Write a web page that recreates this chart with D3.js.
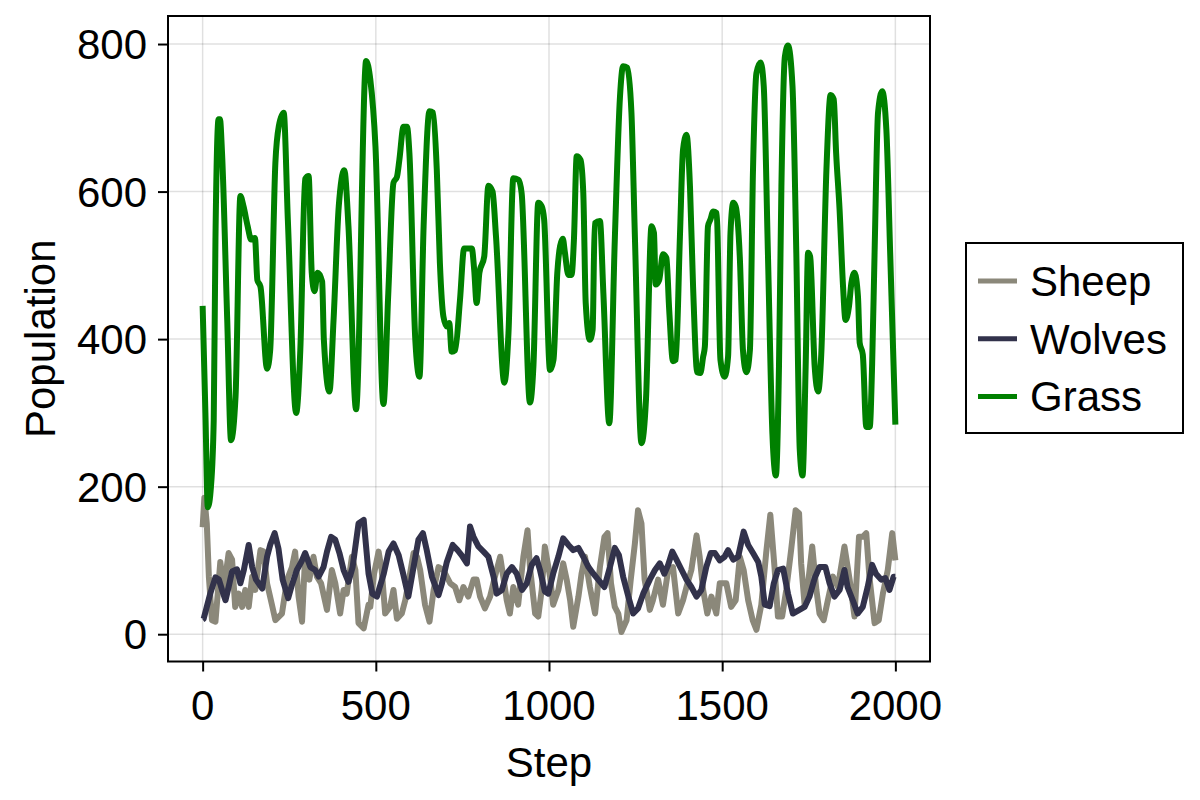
<!DOCTYPE html>
<html>
<head>
<meta charset="utf-8">
<script src="https://cdn.jsdelivr.net/npm/d3@7"></script>
<style>
  body { margin: 0; background: #fff; }
  svg { font-family: "Liberation Sans", Arial, sans-serif; }
</style>
</head>
<body>
<svg id="chart"></svg>
<script>
const width = 1200;
const height = 800;

const margin = { top: 16, right: 270, bottom: 138.5, left: 168 };

// data (step, population)
const sheepSteps = [0, 5, 12, 18, 27, 37, 51, 61, 75, 85, 94, 104, 114, 123, 133, 143, 152, 167, 176, 186, 200, 210, 229, 244, 258, 267, 277, 287, 296, 308, 320, 330, 342, 359, 373, 383, 397, 407, 416, 431, 441, 450, 465, 479, 484, 495, 508, 517, 527, 541, 551, 561, 575, 585, 594, 609, 619, 628, 642, 655, 667, 681, 695, 715, 729, 741, 753, 767, 782, 791, 801, 815, 830, 844, 859, 868, 878, 887, 897, 911, 926, 938, 945, 960, 969, 979, 988, 1003, 1012, 1027, 1041, 1051, 1061, 1070, 1085, 1094, 1104, 1118, 1133, 1147, 1160, 1169, 1179, 1190, 1200, 1209, 1224, 1236, 1248, 1257, 1267, 1276, 1291, 1300, 1315, 1329, 1344, 1358, 1373, 1387, 1397, 1411, 1426, 1435, 1445, 1457, 1469, 1483, 1493, 1512, 1526, 1539, 1551, 1562, 1575, 1588, 1599, 1613, 1627, 1639, 1651, 1661, 1673, 1685, 1699, 1712, 1722, 1728, 1738, 1748, 1760, 1772, 1781, 1793, 1805, 1820, 1834, 1853, 1868, 1882, 1895, 1906, 1916, 1925, 1940, 1952, 1964, 1978, 1991, 2000];
const sheepPop = [145, 185, 150, 78, 19, 17, 98, 60, 110, 101, 37, 55, 37, 60, 37, 78, 60, 114, 112, 69, 40, 19, 28, 74, 91, 112, 51, 17, 107, 74, 105, 78, 69, 33, 87, 69, 28, 60, 55, 105, 87, 15, 8, 40, 37, 82, 112, 87, 28, 37, 60, 21, 28, 46, 69, 110, 105, 87, 40, 17, 60, 91, 87, 69, 64, 46, 64, 51, 74, 74, 51, 35, 51, 78, 105, 78, 46, 28, 64, 40, 105, 141, 91, 28, 24, 60, 119, 78, 40, 60, 96, 74, 46, 10, 51, 82, 105, 64, 28, 91, 132, 137, 69, 37, 28, 3, 19, 74, 123, 168, 150, 74, 33, 46, 74, 40, 87, 91, 28, 46, 64, 87, 134, 105, 60, 28, 51, 28, 69, 69, 37, 46, 105, 87, 46, 19, 6, 40, 110, 162, 91, 24, 24, 60, 114, 168, 164, 96, 40, 69, 119, 60, 28, 19, 46, 78, 64, 119, 74, 24, 132, 132, 137, 78, 15, 19, 55, 87, 137, 100];

const wolfSteps = [0, 3, 22, 37, 47, 56, 66, 75, 85, 99, 109, 119, 133, 143, 154, 172, 186, 195, 208, 219, 231, 247, 258, 272, 285, 296, 311, 325, 335, 349, 359, 371, 383, 395, 407, 421, 433, 450, 465, 479, 490, 503, 523, 537, 551, 566, 580, 594, 609, 623, 636, 647, 662, 681, 691, 705, 722, 736, 748, 763, 772, 782, 796, 811, 825, 840, 849, 864, 878, 893, 907, 922, 936, 950, 964, 974, 988, 998, 1012, 1027, 1041, 1056, 1070, 1085, 1099, 1114, 1128, 1142, 1160, 1176, 1190, 1202, 1214, 1229, 1243, 1257, 1272, 1291, 1306, 1320, 1333, 1344, 1356, 1368, 1383, 1397, 1411, 1426, 1440, 1454, 1467, 1479, 1493, 1507, 1517, 1532, 1546, 1562, 1575, 1589, 1604, 1613, 1623, 1637, 1649, 1661, 1676, 1690, 1704, 1723, 1738, 1752, 1767, 1781, 1798, 1810, 1824, 1839, 1853, 1862, 1877, 1891, 1906, 1920, 1933, 1944, 1959, 1971, 1983, 1995, 2000];
const wolfPop = [20, 21, 55, 77, 74, 60, 46, 64, 85, 88, 69, 87, 121, 91, 74, 62, 105, 121, 137, 116, 74, 49, 67, 87, 98, 110, 91, 87, 78, 91, 112, 132, 128, 110, 87, 71, 91, 150, 155, 82, 55, 51, 82, 112, 123, 107, 80, 51, 91, 128, 137, 114, 78, 53, 69, 98, 121, 114, 107, 96, 146, 132, 119, 112, 105, 78, 55, 60, 82, 91, 82, 60, 69, 94, 103, 87, 58, 55, 82, 105, 130, 121, 114, 117, 105, 91, 82, 74, 64, 91, 117, 107, 78, 51, 28, 35, 55, 74, 87, 96, 82, 94, 112, 101, 87, 74, 64, 51, 60, 91, 110, 110, 100, 105, 114, 101, 105, 139, 121, 110, 98, 78, 40, 38, 69, 87, 89, 55, 28, 33, 37, 51, 76, 91, 91, 69, 51, 60, 87, 64, 46, 28, 37, 64, 94, 82, 74, 76, 60, 78, 78];

const grassSteps = [0, 8, 15, 24, 32, 37, 46, 50, 56, 71, 82, 95, 109, 118, 130, 140, 151, 158, 167, 186, 195, 210, 220, 234, 246, 270, 282, 296, 306, 315, 323, 332, 345, 350, 366, 378, 393, 409, 421, 443, 472, 484, 499, 522, 536, 551, 561, 568, 580, 590, 597, 614, 626, 638, 655, 665, 676, 685, 695, 705, 712, 719, 729, 743, 755, 777, 784, 791, 799, 813, 825, 837, 847, 871, 883, 897, 912, 921, 945, 955, 969, 979, 986, 1003, 1013, 1024, 1032, 1040, 1046, 1056, 1065, 1072, 1080, 1091, 1099, 1106, 1118, 1126, 1132, 1147, 1157, 1174, 1190, 1205, 1214, 1226, 1238, 1248, 1267, 1280, 1296, 1303, 1308, 1318, 1329, 1339, 1347, 1358, 1366, 1378, 1387, 1397, 1407, 1416, 1428, 1437, 1445, 1450, 1459, 1466, 1474, 1484, 1495, 1507, 1517, 1524, 1532, 1539, 1551, 1560, 1570, 1580, 1589, 1599, 1611, 1620, 1632, 1645, 1655, 1664, 1671, 1681, 1690, 1703, 1714, 1724, 1732, 1741, 1748, 1754, 1767, 1777, 1786, 1801, 1813, 1822, 1829, 1839, 1849, 1856, 1866, 1873, 1882, 1892, 1897, 1906, 1916, 1926, 1933, 1940, 1950, 1962, 1974, 1985, 2000];
const grassPop = [445, 300, 172, 200, 290, 535, 698, 698, 652, 426, 263, 322, 594, 580, 553, 535, 537, 480, 471, 360, 385, 639, 689, 707, 562, 300, 385, 617, 621, 490, 465, 490, 478, 399, 329, 426, 580, 629, 553, 305, 777, 752, 661, 312, 462, 612, 620, 643, 688, 688, 652, 399, 349, 553, 709, 707, 630, 503, 431, 417, 422, 383, 385, 453, 523, 523, 494, 449, 490, 512, 608, 600, 539, 341, 408, 618, 616, 598, 314, 363, 585, 580, 562, 358, 372, 490, 526, 536, 517, 487, 487, 535, 648, 643, 598, 449, 399, 413, 557, 560, 462, 286, 535, 729, 770, 768, 707, 539, 259, 318, 553, 544, 474, 480, 515, 510, 440, 370, 372, 539, 657, 677, 607, 471, 355, 354, 376, 390, 553, 562, 573, 571, 372, 349, 376, 544, 585, 580, 510, 385, 355, 385, 630, 761, 775, 743, 517, 272, 215, 363, 607, 783, 798, 743, 517, 250, 215, 363, 517, 512, 363, 329, 379, 630, 731, 725, 652, 575, 471, 426, 444, 476, 490, 458, 395, 379, 281, 281, 367, 517, 707, 736, 684, 517, 284];

const seriesNames = ["Sheep", "Wolves", "Grass"];
const seriesColors = ["#8b887a", "#32324b", "#008000"];
const xTicks = [0, 500, 1000, 1500, 2000];
const yTicks = [0, 200, 400, 600, 800];

const series = [
  { steps: sheepSteps, pop: sheepPop, curve: d3.curveLinear },
  { steps: wolfSteps, pop: wolfPop, curve: d3.curveLinear },
  { steps: grassSteps, pop: grassPop, curve: d3.curveMonotoneX }
].map((s, i) => ({
  name: seriesNames[i],
  color: seriesColors[i],
  curve: s.curve,
  values: s.steps.map((st, j) => [st, s.pop[j]])
}));

const svg = d3.select("#chart")
  .attr("width", width)
  .attr("height", height);

const innerWidth = width - margin.left - margin.right;
const innerHeight = height - margin.top - margin.bottom;

const graph = svg.append("g")
  .attr("transform", `translate(${margin.left}, ${margin.top})`);

const xScale = d3.scaleLinear().domain([-100, 2100]).range([0, innerWidth]);
const yScale = d3.scaleLinear().domain([-37, 838]).range([innerHeight, 0]);

// grid
graph.append("g")
  .selectAll("line")
  .data(xTicks)
  .join("line")
  .attr("x1", d => xScale(d)).attr("x2", d => xScale(d))
  .attr("y1", 0).attr("y2", innerHeight)
  .attr("stroke", "#000").attr("stroke-opacity", 0.12).attr("stroke-width", 1.5);

graph.append("g")
  .selectAll("line")
  .data(yTicks)
  .join("line")
  .attr("y1", d => yScale(d)).attr("y2", d => yScale(d))
  .attr("x1", 0).attr("x2", innerWidth)
  .attr("stroke", "#000").attr("stroke-opacity", 0.12).attr("stroke-width", 1.5);

// lines
graph.append("g")
  .selectAll("path")
  .data(series)
  .join("path")
  .attr("d", d => d3.line().curve(d.curve)
    .x(p => xScale(p[0]))
    .y(p => yScale(p[1]))(d.values))
  .attr("fill", "none")
  .attr("stroke", d => d.color)
  .attr("stroke-width", 6)
  .attr("stroke-linejoin", "round");

// axes (tick marks only, labels drawn below)
const xAxis = d3.axisBottom(xScale).tickValues(xTicks).tickFormat("").tickSize(10);
const yAxis = d3.axisLeft(yScale).tickValues(yTicks).tickFormat("").tickSize(10);

const gx = graph.append("g")
  .attr("transform", `translate(0, ${innerHeight})`)
  .call(xAxis);
const gy = graph.append("g").call(yAxis);

[gx, gy].forEach(g => {
  g.select(".domain").remove();
  g.selectAll(".tick line").attr("stroke", "#000").attr("stroke-width", 2);
  g.selectAll(".tick text").remove();
});

// tick labels
graph.append("g")
  .selectAll("text")
  .data(xTicks)
  .join("text")
  .attr("x", d => xScale(d))
  .attr("y", innerHeight + 58)
  .attr("text-anchor", "middle")
  .attr("font-size", 42)
  .text(d => d3.format("d")(d));

graph.append("g")
  .selectAll("text")
  .data(yTicks)
  .join("text")
  .attr("x", -21)
  .attr("y", d => yScale(d) + 15)
  .attr("text-anchor", "end")
  .attr("font-size", 42)
  .text(d => d3.format("d")(d));

// frame
graph.append("rect")
  .attr("x", 0).attr("y", 0)
  .attr("width", innerWidth).attr("height", innerHeight)
  .attr("fill", "none").attr("stroke", "#000").attr("stroke-width", 2);

// axis labels
svg.append("text")
  .attr("x", margin.left + innerWidth / 2)
  .attr("y", 777)
  .attr("text-anchor", "middle")
  .attr("font-size", 42)
  .text("Step");

svg.append("text")
  .attr("transform", `translate(55, ${margin.top + innerHeight / 2}) rotate(-90)`)
  .attr("text-anchor", "middle")
  .attr("font-size", 42)
  .text("Population");

// legend
const legend = svg.append("g").attr("transform", "translate(966, 243)");
legend.append("rect")
  .attr("width", 217).attr("height", 190)
  .attr("fill", "#fff").attr("stroke", "#000").attr("stroke-width", 2);

const item = legend.selectAll("g.item")
  .data(series)
  .join("g")
  .attr("class", "item")
  .attr("transform", (d, i) => `translate(0, ${38 + i * 57.7})`);

item.append("line")
  .attr("x1", 12).attr("x2", 51)
  .attr("stroke", d => d.color)
  .attr("stroke-width", 5);

item.append("text")
  .attr("x", 64)
  .attr("y", 15)
  .attr("font-size", 42)
  .text(d => d.name);
</script>
</body>
</html>
